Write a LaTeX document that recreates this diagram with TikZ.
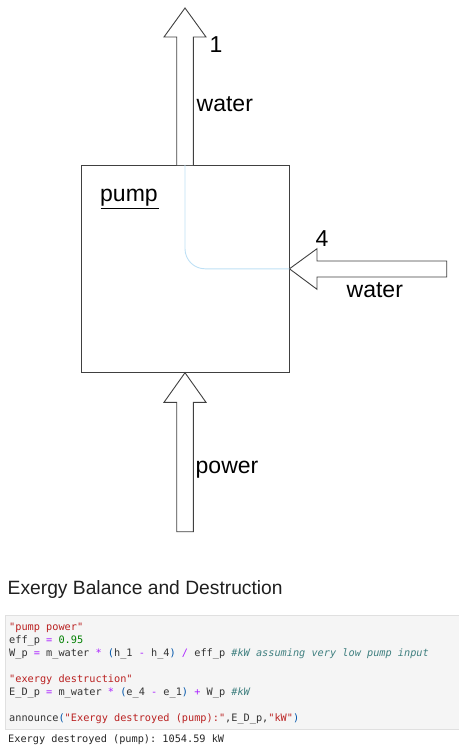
\documentclass[tikz,border=0pt]{standalone}
\usepackage{fontspec}
\setmainfont{Liberation Sans}
\setmonofont{DejaVu Sans Mono}
\definecolor{cstr}{HTML}{BA2121}
\definecolor{cnum}{HTML}{008000}
\definecolor{cop}{HTML}{AA22FF}
\definecolor{ccom}{HTML}{408080}
\definecolor{cpar}{HTML}{0055AA}
\definecolor{ctext}{HTML}{333333}
\definecolor{linec}{HTML}{404040}
\definecolor{flowc}{HTML}{BEE0F5}
\definecolor{cellbg}{HTML}{F5F5F5}
\definecolor{cellbd}{HTML}{E0E0E0}
\begin{document}
\begin{tikzpicture}[x=1pt,y=-1pt,
  arrowshape/.style={draw=linec,line width=0.9pt,fill=white,line join=miter},
  lbl/.style={inner sep=0pt,anchor=base west,font=\fontsize{23}{26}\selectfont,text=black},
  code/.style={inner sep=0pt,anchor=base west,font=\ttfamily\fontsize{10.25}{13}\selectfont,text=ctext}]
\useasboundingbox (0,0) rectangle (458,749);
% pump box
\node[draw=linec,line width=0.9pt,minimum width=208pt,minimum height=207pt,inner sep=0pt] (pump) at (185,268.8) {};
% up arrow (outlet 1)
\coordinate (upL) at (176.7,165);
\coordinate (upR) at (193.3,165);
\draw[arrowshape] (upL) -- (176.7,37) -- (164,37) -- (185,8) -- (206,37) -- (193.3,37) -- (upR);
% right arrow (inlet 4)
\coordinate (inTip) at (pump.east);
\draw[arrowshape] (inTip) -- (317,248.7) -- (317,261) -- (446.7,261) -- (446.7,277) -- (317,277) -- (317,289.3) -- cycle;
% bottom arrow (power)
\coordinate (pwTip) at (pump.south);
\draw[arrowshape] (pwTip) -- (206,402.3) -- (193.3,402.3) -- (193.3,531.7) -- (176.7,531.7) -- (176.7,402.3) -- (164,402.3) -- cycle;
% flow path
\draw[flowc,line width=0.9pt,rounded corners=20pt] (pump.north) |- (pump.east);
% labels
\node[lbl] (l1) at (209.5,53) {1};
\node[lbl] (lw1) at (196.5,111.5) {water};
\node[lbl] (lpump) at (100,201.5) {pump};
\draw[black,line width=0.8pt] (100.7,208.3) -- (159,208.3);
\node[lbl] (l4) at (315.5,246.5) {4};
\node[lbl] (lw4) at (346.5,297.5) {water};
\node[lbl] (lpw) at (195.5,473.3) {power};
% heading
\node[inner sep=0pt,anchor=base west,font=\fontsize{19.25}{22}\selectfont,text=black!88] (head) at (7.5,594) {Exergy Balance and Destruction};
% code cell
\node[draw=cellbd,fill=cellbg,line width=0.8pt,minimum width=460pt,minimum height=113.5pt,inner sep=0pt,anchor=north west] (cell) at (4.5,615) {};
\node[code] (c1) at (9,630) {\color{cstr}"pump power"};
\node[code] (c2) at (9,643) {eff\_p {\color{cop}=} {\color{cnum}0.95}};
\node[code] (c3) at (9,656) {W\_p {\color{cop}=} m\_water {\color{cop}*} {\color{cpar}(}h\_1 {\color{cop}-} h\_4{\color{cpar})} {\color{cop}/} eff\_p {\color{ccom}\itshape\#kW assuming very low pump input}};
\node[code] (c5) at (9,682) {\color{cstr}"exergy destruction"};
\node[code] (c6) at (9,695) {E\_D\_p {\color{cop}=} m\_water {\color{cop}*} {\color{cpar}(}e\_4 {\color{cop}-} e\_1{\color{cpar})} {\color{cop}+} W\_p {\color{ccom}\itshape\#kW}};
\node[code] (c8) at (9,721) {announce{\color{cpar}(}{\color{cstr}"Exergy destroyed (pump):"},E\_D\_p,{\color{cstr}"kW"}{\color{cpar})}};
\node[code,text=black!85] (out) at (8,742) {Exergy destroyed (pump): 1054.59 kW};
\end{tikzpicture}
\end{document}
